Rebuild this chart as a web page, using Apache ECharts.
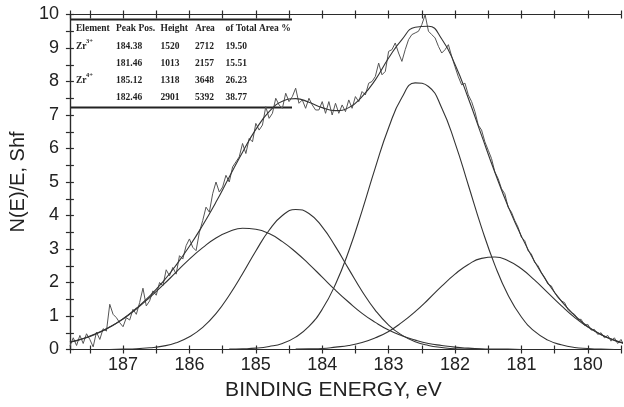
<!DOCTYPE html>
<html><head><meta charset="utf-8">
<script src="https://cdn.jsdelivr.net/npm/echarts@6/dist/echarts.min.js"></script>
<style>html,body{margin:0;padding:0;background:#fff}#c{width:624px;height:407px}</style>
</head><body><div id="c"></div>
<script>
// ---- data ----
const energies = [187.8,187.6,187.4,187.2,187.0,186.8,186.6,186.4,186.2,186.0,185.8,185.6,185.4,185.2,185.0,184.8,184.6,184.4,184.2,184.0,183.8,183.6,183.4,183.2,183.0,182.8,182.6,182.4,182.2,182.0,181.8,181.6,181.4,181.2,181.0,180.8,180.6,180.4,180.2,180.0,179.8,179.6,179.4];
const envelope = [0.22,0.33,0.48,0.67,0.92,1.23,1.59,2.02,2.52,3.08,3.71,4.40,5.15,5.89,6.57,7.10,7.41,7.49,7.38,7.22,7.13,7.22,7.55,8.05,8.70,9.25,9.62,9.65,9.27,8.51,7.50,6.39,5.29,4.27,3.38,2.62,1.98,1.45,1.02,0.69,0.45,0.28,0.16];
const peakZr4a = [0.22,0.32,0.47,0.67,0.91,1.21,1.55,1.92,2.31,2.70,3.04,3.33,3.52,3.62,3.59,3.46,3.22,2.91,2.55,2.16,1.77,1.41,1.08,0.81,0.58,0.41,0.28,0.18,0.12,0.07,0.04,0.02,0.01,0.01,0.00,null,null,null,null,null,null,null,null];
const peakZr3a = [null,null,null,0.00,0.01,0.02,0.05,0.10,0.20,0.38,0.66,1.07,1.62,2.26,2.94,3.56,4.00,4.18,4.06,3.66,3.07,2.40,1.74,1.17,0.73,0.43,0.23,0.12,0.06,0.02,0.01,0.00,null,null,null,null,null,null,null,null,null,null,null];
const peakZr4b = [null,null,null,null,null,null,null,null,null,null,null,null,0.01,0.02,0.04,0.09,0.18,0.37,0.69,1.20,1.95,2.94,4.14,5.43,6.62,7.52,7.96,7.85,7.21,6.17,4.91,3.64,2.52,1.62,0.97,0.54,0.28,0.14,0.06,0.03,0.01,0.00,null];
const peakZr3b = [null,null,null,null,null,null,null,null,null,null,null,null,null,null,null,null,null,0.01,0.02,0.03,0.07,0.12,0.21,0.35,0.54,0.81,1.13,1.50,1.89,2.25,2.54,2.72,2.76,2.65,2.41,2.07,1.69,1.31,0.96,0.67,0.44,0.27,0.16];

const rawEnergy = [187.80,187.75,187.70,187.65,187.60,187.55,187.50,187.45,187.40,187.35,187.30,187.25,187.20,187.15,187.10,187.05,187.00,186.95,186.90,186.85,186.80,186.75,186.70,186.65,186.60,186.55,186.50,186.45,186.40,186.35,186.30,186.25,186.20,186.15,186.10,186.05,186.00,185.95,185.90,185.85,185.80,185.75,185.70,185.65,185.60,185.55,185.50,185.45,185.40,185.35,185.30,185.25,185.20,185.15,185.10,185.05,185.00,184.95,184.90,184.85,184.80,184.75,184.70,184.65,184.60,184.55,184.50,184.45,184.40,184.35,184.30,184.25,184.20,184.15,184.10,184.05,184.00,183.95,183.90,183.85,183.80,183.75,183.70,183.65,183.60,183.55,183.50,183.45,183.40,183.35,183.30,183.25,183.20,183.15,183.10,183.05,183.00,182.95,182.90,182.85,182.80,182.75,182.70,182.65,182.60,182.55,182.50,182.45,182.40,182.35,182.30,182.25,182.20,182.15,182.10,182.05,182.00,181.95,181.90,181.85,181.80,181.75,181.70,181.65,181.60,181.55,181.50,181.45,181.40,181.35,181.30,181.25,181.20,181.15,181.10,181.05,181.00,180.95,180.90,180.85,180.80,180.75,180.70,180.65,180.60,180.55,180.50,180.45,180.40,180.35,180.30,180.25,180.20,180.15,180.10,180.05,180.00,179.95,179.90,179.85,179.80,179.75,179.70,179.65,179.60,179.55,179.50,179.45];
const rawSignal = [0.10,0.35,0.12,0.42,0.18,0.47,0.30,0.08,0.52,0.30,0.62,0.55,1.35,1.05,0.95,0.80,0.68,0.95,0.88,1.20,1.05,1.40,1.83,1.30,1.45,1.75,1.62,2.00,1.90,2.38,2.20,2.45,2.25,2.80,2.70,3.10,3.30,3.05,2.95,3.50,3.85,4.25,4.10,4.65,5.00,4.70,4.85,5.20,
  5.00,5.45,5.60,5.75,6.15,5.85,6.30,6.20,6.75,6.55,6.70,7.25,6.90,7.05,7.50,7.30,7.20,7.65,7.40,7.55,7.80,7.35,7.45,7.20,7.50,7.30,7.15,
  7.15,7.40,7.05,7.40,7.00,7.35,7.05,7.30,7.10,7.45,7.20,7.55,7.40,7.70,7.60,7.95,8.00,8.15,8.55,8.20,8.30,8.90,8.95,9.15,8.85,8.60,8.95,9.25,9.40,9.45,9.50,9.70,9.99,9.50,9.40,9.30,9.05,8.85,8.95,9.10,8.75,8.44,8.14,7.90,7.95,7.60,7.40,7.10,6.70,6.55,6.20,5.95,5.70,
  5.30,5.10,4.80,4.65,4.25,4.10,3.85,3.65,3.35,3.25,2.95,2.85,2.60,2.50,2.30,2.15,1.95,1.90,1.70,1.55,1.45,1.40,1.20,1.10,1.05,0.90,0.90,0.72,0.75,0.58,0.60,0.45,0.50,0.35,0.42,0.25,0.35,0.18,0.30,0.10];

const tableHeader = ['Element','Peak Pos.','Height','Area','of Total Area %'];
const tableElement = ['Zr','','Zr',''];
const tableCharge = ['3+','','4+',''];
const tablePeakPos = ['184.38','181.46','185.12','182.46'];
const tableHeight = ['1520','1013','1318','2901'];
const tableArea = ['2712','2157','3648','5392'];
const tablePercent = ['19.50','15.51','26.23','38.77'];

// ---- layout / style ----
const X_MIN = 179.5, X_MAX = 187.8;
const INK = '#2b2b2b';
const isInt = v => Math.abs(v - Math.round(v)) < 1e-6;
const fmt = v => isInt(v) ? String(Math.round(v)) : '';
const lineStyle = {color: INK, width: 1.2};
const baseX = {type:'value', min:X_MIN, max:X_MAX, inverse:true, interval:0.5,
  splitLine:{show:false}, axisLine:{show:true, onZero:false, lineStyle},
  axisTick:{show:true, length:4, lineStyle}, axisLabel:{show:false}};
const baseY = {type:'value', min:0, max:10, interval:0.5,
  splitLine:{show:false}, axisLine:{show:true, onZero:false, lineStyle},
  axisTick:{show:true, length:4, lineStyle}, axisLabel:{show:false}};
const labelFont = {fontSize:18, color:'#222', fontFamily:'Liberation Sans'};

const pairs = (xs, ys) => xs.map((x, i) => [x, ys[i]]);
const curve = (name, ys) => ({name, type:'line', data:pairs(energies, ys), smooth:true,
  showSymbol:false, symbol:'none', lineStyle:{color:'#333', width:1.1}, connectNulls:false, clip:true});

// table graphics
const colX = [76, 116, 160.5, 195, 225.5];
const headY = 29, rowY = [46.5, 63.5, 80.5, 98];
const tFont = 'bold 9.5px "Liberation Serif"';
const g = [];
const txt = (t, x, y, font) => g.push({type:'text', x, y, silent:true,
  style:{text:t, font: font || tFont, fill:'#222', textVerticalAlign:'middle', verticalAlign:'middle', textAlign:'left', align:'left'}});
tableHeader.forEach((h, i) => txt(h, colX[i], headY));
const cols = [tableElement, tablePeakPos, tableHeight, tableArea, tablePercent];
rowY.forEach((y, r) => {
  cols.forEach((c, i) => { if (c[r]) txt(c[r], colX[i], y); });
  if (tableCharge[r]) txt(tableCharge[r], colX[0] + 10, y - 5, 'bold 6.5px "Liberation Serif"');
});
g.push({type:'line', silent:true, shape:{x1:71, y1:19.5, x2:292, y2:19.5}, style:{stroke:'#222', lineWidth:2}});
g.push({type:'line', silent:true, shape:{x1:70, y1:107.5, x2:292, y2:107.5}, style:{stroke:'#222', lineWidth:2}});

const chart = echarts.init(document.getElementById('c'), null, {renderer:'canvas'});
chart.setOption({
  animation:false,
  backgroundColor:'#fff',
  textStyle:{fontFamily:'Liberation Sans'},
  grid:{left:63, right:1.6, top:14.5, bottom:57.5, containLabel:false},
  xAxis:[
    {...baseX, position:'bottom', axisLabel:{show:true, formatter:fmt, margin:7, ...labelFont},
      name:'BINDING ENERGY, eV', nameLocation:'middle', nameGap:28,
      nameTextStyle:{fontSize:21, color:'#222', fontFamily:'Liberation Sans', padding:[0,24,0,0]}},
    {...baseX, position:'bottom', axisTick:{show:true, inside:true, length:4, lineStyle}},
    {...baseX, position:'top'},
    {...baseX, position:'top', axisTick:{show:true, inside:true, length:4, lineStyle}}
  ],
  yAxis:[
    {...baseY, position:'left', axisLabel:{show:true, formatter:fmt, margin:11, ...labelFont},
      name:'N(E)/E, Shf', nameLocation:'middle', nameGap:25, nameRotate:90,
      nameTextStyle:{fontSize:20, color:'#222', fontFamily:'Liberation Sans'}},
    {...baseY, position:'left', axisTick:{show:true, inside:true, length:4, lineStyle}}
  ],
  graphic:g,
  series:[
    {name:'raw', type:'line', data:pairs(rawEnergy, rawSignal), showSymbol:false, symbol:'none',
      lineStyle:{color:'#555', width:1}, clip:true},
    curve('envelope', envelope),
    curve('Zr4+ 185.12', peakZr4a),
    curve('Zr3+ 184.38', peakZr3a),
    curve('Zr4+ 182.46', peakZr4b),
    curve('Zr3+ 181.46', peakZr3b)
  ]
});
</script></body></html>
